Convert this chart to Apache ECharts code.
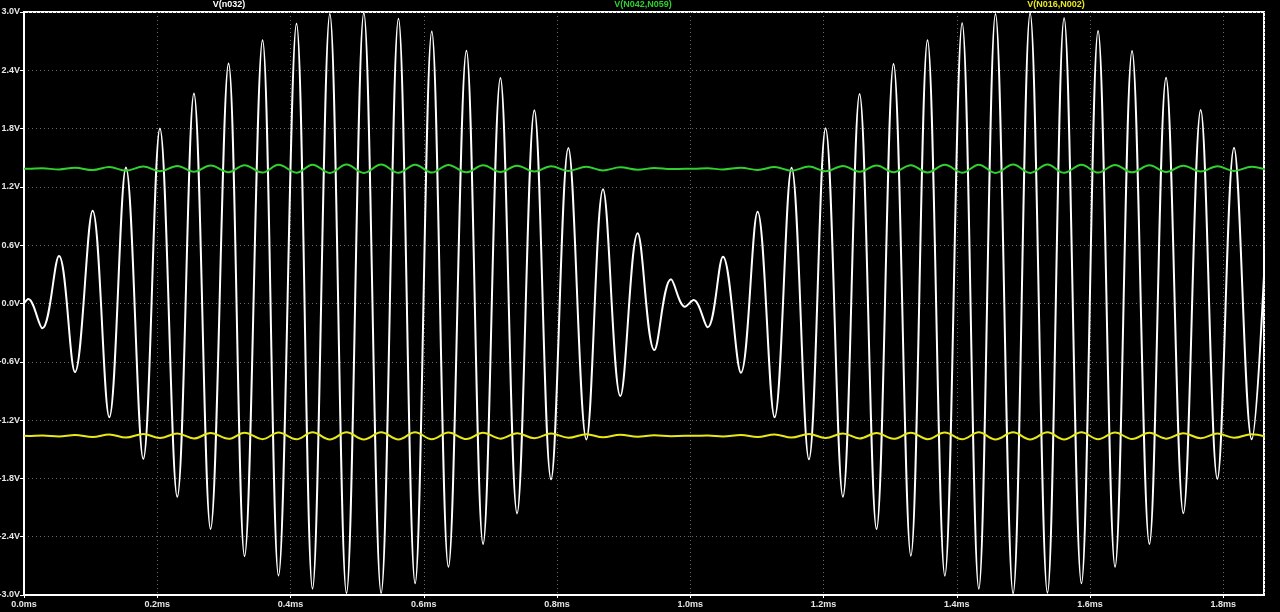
<!DOCTYPE html>
<html>
<head>
<meta charset="utf-8">
<script src="https://cdn.jsdelivr.net/npm/echarts@6/dist/echarts.min.js"></script>
<style>
html,body{margin:0;padding:0;background:#000;}
#c{width:1280px;height:612px;}
</style>
</head>
<body>
<div id="c"></div>
<script>
// time (ms) of each extreme of V(n032)
const tMs = [0.000,0.0065,0.0275,0.0525,0.0765,0.103,0.128,0.153,0.179,0.204,0.230,0.255,0.280,0.307,0.331,0.358,0.382,0.409,0.433,0.459,0.484,0.510,0.536,0.562,0.587,0.612,0.637,0.664,0.689,0.715,0.740,0.766,0.791,0.817,0.844,0.869,0.895,0.921,0.946,0.971,0.992,1.005,1.026,1.049,1.076,1.101,1.1265,1.152,1.178,1.203,1.229,1.254,1.2795,1.305,1.331,1.356,1.382,1.408,1.433,1.458,1.4845,1.510,1.536,1.561,1.587,1.612,1.6375,1.663,1.689,1.714,1.740,1.766,1.791,1.816,1.8425,1.867];
// V(n032) values (V)
const vN032 = [0.00,0.046,-0.255,0.489,-0.705,0.955,-1.171,1.40,-1.60,1.80,-1.99,2.16,-2.32,2.47,-2.60,2.71,-2.80,2.88,-2.935,2.98,-2.98,2.99,-2.98,2.93,-2.88,2.80,-2.71,2.60,-2.475,2.32,-2.16,1.99,-1.81,1.60,-1.40,1.175,-0.952,0.722,-0.479,0.249,-0.033,0.036,-0.245,0.482,-0.712,0.945,-1.171,1.398,-1.604,1.803,-1.988,2.156,-2.321,2.465,-2.595,2.708,-2.801,2.883,-2.935,2.979,-2.983,2.986,-2.976,2.935,-2.880,2.804,-2.709,2.599,-2.475,2.324,-2.159,1.991,-1.806,1.604,-1.398,1.18];
// V(N042,N059) values (V)
const vN042N059 = [1.387,1.386,1.391,1.380,1.397,1.373,1.404,1.367,1.410,1.361,1.415,1.356,1.420,1.352,1.424,1.348,1.427,1.346,1.429,1.344,1.430,1.344,1.430,1.345,1.428,1.347,1.426,1.350,1.422,1.354,1.418,1.359,1.413,1.364,1.407,1.370,1.401,1.377,1.394,1.383,1.387,1.386,1.391,1.380,1.397,1.374,1.404,1.367,1.410,1.361,1.415,1.356,1.420,1.352,1.424,1.348,1.427,1.346,1.429,1.344,1.430,1.344,1.430,1.345,1.428,1.347,1.426,1.350,1.422,1.354,1.418,1.359,1.413,1.364,1.407,1.370];
// V(N016,N002) values (V)
const vN016N002 = [-1.362,-1.363,-1.359,-1.368,-1.353,-1.374,-1.347,-1.380,-1.342,-1.385,-1.337,-1.389,-1.333,-1.393,-1.330,-1.396,-1.327,-1.398,-1.325,-1.399,-1.325,-1.399,-1.325,-1.399,-1.326,-1.397,-1.328,-1.395,-1.331,-1.391,-1.335,-1.387,-1.339,-1.382,-1.345,-1.377,-1.350,-1.371,-1.356,-1.365,-1.362,-1.362,-1.359,-1.368,-1.353,-1.374,-1.347,-1.379,-1.342,-1.385,-1.337,-1.389,-1.333,-1.393,-1.330,-1.396,-1.327,-1.398,-1.325,-1.399,-1.325,-1.399,-1.325,-1.399,-1.326,-1.397,-1.328,-1.394,-1.331,-1.391,-1.335,-1.387,-1.339,-1.382,-1.345,-1.377];
const traceNames = ['V(n032)','V(N042,N059)','V(N016,N002)'];
const traceColors = ['#ffffff','#2fd02f','#e8e817'];

const pair = (ys) => tMs.map((t, i) => [t, ys[i]]);
const chart = echarts.init(document.getElementById('c'), null, {renderer: 'canvas'});
const lblFont = {color: '#e6e6e6', fontSize: 9, fontWeight: 'bold', fontFamily: 'Liberation Sans, Arial, sans-serif'};
const gridLine = {show: true, lineStyle: {color: '#6a6a6a', width: 1, type: [1, 3]}};
const titleFont = 'bold 9px "Liberation Sans", Arial, sans-serif';

chart.setOption({
  backgroundColor: '#000000',
  animation: false,
  grid: {left: 24, right: 16, top: 12, bottom: 17, containLabel: false, outerBoundsMode: 'none',
         show: true, borderColor: '#ffffff', borderWidth: 2, backgroundColor: '#000000'},
  xAxis: {
    type: 'value', min: 0, max: 1.861, interval: 0.2,
    axisLine: {show: true, onZero: false, lineStyle: {color: '#ffffff', width: 2}},
    axisTick: {show: true, length: 3, lineStyle: {color: '#ffffff', width: 1}},
    splitLine: gridLine,
    axisLabel: Object.assign({margin: 5, showMaxLabel: false, formatter: v => v.toFixed(1) + 'ms'}, lblFont)
  },
  yAxis: {
    type: 'value', min: -3, max: 3, interval: 0.6,
    axisLine: {show: true, onZero: false, lineStyle: {color: '#ffffff', width: 2}},
    axisTick: {show: true, length: 4, lineStyle: {color: '#ffffff', width: 1}},
    splitLine: gridLine,
    axisLabel: Object.assign({margin: 4, formatter: v => v.toFixed(1) + 'V'}, lblFont)
  },
  graphic: [
    {type: 'text', x: 229, y: 5, style: {text: traceNames[0], fill: traceColors[0], font: titleFont, textAlign: 'center', textVerticalAlign: 'middle'}},
    {type: 'text', x: 643, y: 5, style: {text: traceNames[1], fill: traceColors[1], font: titleFont, textAlign: 'center', textVerticalAlign: 'middle'}},
    {type: 'text', x: 1056, y: 5, style: {text: traceNames[2], fill: traceColors[2], font: titleFont, textAlign: 'center', textVerticalAlign: 'middle'}}
  ],
  series: [
    {name: traceNames[0], type: 'line', data: pair(vN032), smooth: 0.37, showSymbol: false, clip: true, lineStyle: {color: traceColors[0], width: 2}},
    {name: traceNames[1], type: 'line', data: pair(vN042N059), smooth: 0.37, showSymbol: false, clip: true, lineStyle: {color: traceColors[1], width: 2}},
    {name: traceNames[2], type: 'line', data: pair(vN016N002), smooth: 0.37, showSymbol: false, clip: true, lineStyle: {color: traceColors[2], width: 2}}
  ]
});
</script>
</body>
</html>
